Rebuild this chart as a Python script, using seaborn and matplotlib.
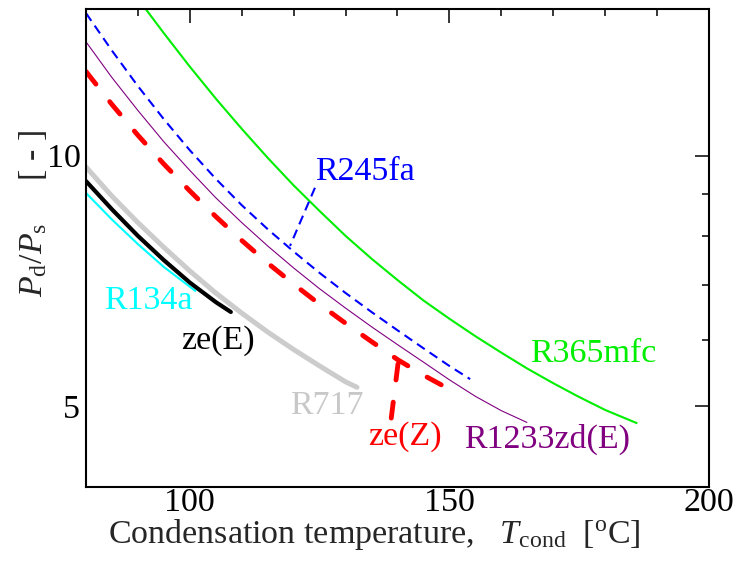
import numpy as np
import pandas as pd
import matplotlib
matplotlib.use("Agg")
import matplotlib.pyplot as plt
from matplotlib.ticker import FixedLocator, FixedFormatter, MultipleLocator, NullFormatter
import seaborn as sns

# ---- data ----
r365_x = [91.5, 95, 100, 105, 110, 115, 120, 125, 130, 135, 140, 145, 150,
          155, 160, 165, 170, 175, 180, 186.2]
r365_y = [15.0, 14.03, 12.79, 11.71, 10.77, 9.94, 9.21, 8.58, 8.01, 7.52, 7.09,
          6.70, 6.37, 6.07, 5.80, 5.55, 5.33, 5.13, 4.95, 4.77]

r245_x = [80, 85, 90, 95, 100, 105, 110, 115, 120, 125, 130, 135, 140, 145, 150, 154]
r245_y = [14.83, 13.37, 12.12, 11.06, 10.15, 9.38, 8.72, 8.16, 7.67, 7.23, 6.84,
          6.49, 6.17, 5.87, 5.59, 5.39]

r1233_x = [80, 85, 90, 95, 100, 105, 110, 115, 120, 125, 130, 135, 140, 145,
           150, 155, 160, 165]
r1233_y = [13.70, 12.41, 11.33, 10.39, 9.60, 8.90, 8.31, 7.79, 7.33, 6.92, 6.56,
           6.23, 5.93, 5.65, 5.38, 5.14, 4.94, 4.78]

zeZ_x = [80, 85, 90, 95, 100, 105, 110, 115, 120, 125, 130, 135, 140, 145, 149.3]
zeZ_y = [12.62, 11.52, 10.58, 9.77, 9.07, 8.45, 7.91, 7.43, 7.01, 6.63, 6.29,
         5.98, 5.69, 5.45, 5.27]

r717_x = [80, 85, 90, 95, 100, 105, 110, 115, 120, 125, 130, 132.2]
r717_y = [9.69, 8.94, 8.31, 7.76, 7.27, 6.84, 6.47, 6.14, 5.85, 5.59, 5.35, 5.27]

zeE_x = [80, 85, 90, 95, 100, 105, 107.9]
zeE_y = [9.32, 8.62, 8.01, 7.49, 7.04, 6.67, 6.49]

r134_x = [80, 85, 90, 95, 101.2]
r134_y = [9.02, 8.38, 7.83, 7.35, 6.87]

# leader lines of the labels
lead245_x = [124.1, 119.3]
lead245_y = [9.15, 7.79]
leadZ_x = [138.8, 140.2]
leadZ_y = [4.84, 5.69]

x_major = [100, 150, 200]
x_major_labels = ["100", "150", "200"]
y_major = [5, 10]
y_major_labels = ["5", "10"]
y_minor = [6, 7, 8, 9]

# ---- style ----
sns.set_style("white")
plt.rcParams["font.family"] = ["Liberation Serif", "DejaVu Serif"]
plt.rcParams["mathtext.fontset"] = "custom"
plt.rcParams["mathtext.rm"] = "Liberation Serif"
plt.rcParams["mathtext.it"] = "Liberation Serif:italic"

fig = plt.figure(figsize=(7.38, 5.70), dpi=100)
ax = fig.add_axes([0.1165, 0.1456, 0.8442, 0.8386])

def draw(xs, ys, color, lw, ls="-", cap="butt"):
    df = pd.DataFrame({"x": xs, "y": ys})
    sns.lineplot(data=df, x="x", y="y", ax=ax, color=color, lw=lw,
                 linestyle=ls, estimator=None, sort=False,
                 solid_capstyle=cap, dash_capstyle=cap, solid_joinstyle="round")

draw(r717_x, r717_y, "#CCCCCC", 3.6, cap="round")
draw(r134_x, r134_y, "#00FFFF", 1.5)
draw(zeE_x, zeE_y, "#000000", 3.0, cap="round")
draw(r365_x, r365_y, "#00EE00", 1.5)
draw(r1233_x, r1233_y, "#800080", 0.8)
draw(zeZ_x, zeZ_y, "#FF0000", 3.5, ls=(0, (3.3, 4.6)), cap="round")
draw(r245_x, r245_y, "#0000FF", 1.5, ls=(0, (4.5, 2.8)))
draw(lead245_x, lead245_y, "#0000FF", 1.5, ls=(0, (4.5, 2.8)))
draw(leadZ_x, leadZ_y, "#FF0000", 3.5, ls=(0, (3.3, 4.6)), cap="round")

ax.set_yscale("log")
ax.set_xlim(80, 200)
ax.set_ylim(4, 15)

ax.xaxis.set_major_locator(FixedLocator(x_major))
ax.xaxis.set_major_formatter(FixedFormatter(x_major_labels))
ax.xaxis.set_minor_locator(MultipleLocator(10))
ax.yaxis.set_major_locator(FixedLocator(y_major))
ax.yaxis.set_major_formatter(FixedFormatter(y_major_labels))
ax.yaxis.set_minor_locator(FixedLocator(y_minor))
ax.yaxis.set_minor_formatter(NullFormatter())

fs = 24.5
ax.tick_params(which="both", direction="in", top=True, right=True,
               width=1.1, labelsize=fs, colors="black")
ax.tick_params(which="major", length=10)
ax.tick_params(which="minor", length=5)
ax.tick_params(axis="x", which="major", pad=0.5)
ax.tick_params(axis="y", which="major", pad=4)
for s in ax.spines.values():
    s.set_linewidth(1.5)
    s.set_color("black")

ax.set_xlabel(r"Condensation temperature,   $T_{\mathrm{cond}}$  [$^{\mathrm{o}}$C]",
              fontsize=fs)
ax.xaxis.set_label_coords(0.463, -0.063)
ax.set_ylabel(r"$P_{\mathrm{d}}/P_{\mathrm{s}}$     [ - ]", fontsize=fs)
ax.yaxis.set_label_coords(-0.060, 0.571)

lab = dict(fontsize=fs, va="baseline", ha="left")
ax.text(124.1, 9.35, "R245fa", color="#0000FF", **lab)
ax.text(83.5, 6.54, "R134a", color="#00FFFF", **lab)
ax.text(98.3, 5.86, "ze(E)", color="#000000", **lab)
ax.text(119.3, 4.89, "R717", color="#C8C8C8", **lab)
ax.text(134.4, 4.50, "ze(Z)", color="#FF0000", **lab)
ax.text(152.8, 4.46, "R1233zd(E)", color="#800080", **lab)
ax.text(165.6, 5.65, "R365mfc", color="#00EE00", **lab)

fig.savefig("out.png", dpi=100)
